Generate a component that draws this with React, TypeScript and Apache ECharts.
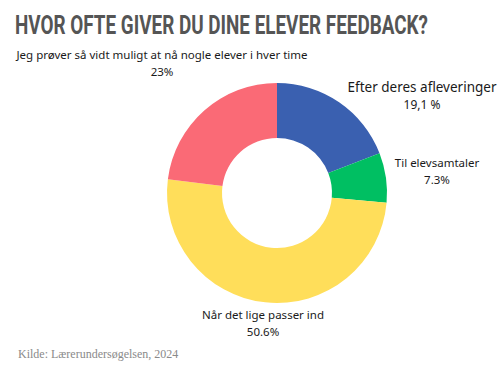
import React, { useEffect, useRef } from "react";
import * as echarts from "echarts";

const categories = [
  "Efter deres afleveringer",
  "Til elevsamtaler",
  "Når det lige passer ind",
  "Jeg prøver så vidt muligt at nå nogle elever i hver time",
];
const values = [19.1, 7.3, 50.6, 23];
const valueLabels = ["19,1 %", "7.3%", "50.6%", "23%"];
const colors = ["#3A60B0", "#00BF62", "#FFDE5A", "#FA6A76"];
const title = "HVOR OFTE GIVER DU DINE ELEVER FEEDBACK?";
const source = "Kilde: Lærerundersøgelsen, 2024";

const labelPos: [number, number][] = [
  [422, 95],
  [437, 171],
  [263, 323],
  [162, 63],
];

export default function App() {
  const ref = useRef<HTMLDivElement>(null);
  useEffect(() => {
    document.body.style.margin = "0";
    const chart = echarts.init(ref.current!, null, { renderer: "svg" });
    const titleFont = "bold 26px Roboto";
    const c = document.createElement("canvas").getContext("2d")!;
    c.font = titleFont;
    const w = c.measureText(title).width;
    const sx = 413 / w;
    chart.setOption({
      animation: false,
      backgroundColor: "#ffffff",
      graphic: [
        {
          type: "text",
          x: 15,
          y: 25,
          scaleX: sx,
          style: {
            text: title,
            font: titleFont,
            fill: "#555555",
            verticalAlign: "middle",
          },
        },
        {
          type: "text",
          x: 18,
          y: 354,
          style: {
            text: source,
            font: "12px 'Liberation Serif'",
            fill: "#8a8a8a",
            verticalAlign: "middle",
          },
        },
      ],
      series: [
        {
          type: "pie",
          center: [277, 193],
          radius: [55, 110],
          startAngle: 90,
          clockwise: true,
          data: categories.map((name, i) => ({
            name,
            value: values[i],
            itemStyle: { color: colors[i] },
            label: {
              formatter: `{${i === 0 ? "big" : "n"}|${name}}\n{${i === 0 ? "bigv" : "n"}|${valueLabels[i]}}`,
            },
          })),
          label: {
            show: true,
            position: "outside",
            alignTo: "none",
            overflow: "none",
            width: 400,
            color: "#1a1a1a",
            fontFamily: "'Noto Sans'",
            align: "center",
            rich: {
              n: { fontSize: 11.5, lineHeight: 17, fontFamily: "'Noto Sans'", color: "#1a1a1a", align: "center" },
              big: { fontSize: 13.5, lineHeight: 19, fontFamily: "'Noto Sans'", color: "#1a1a1a", align: "center" },
              bigv: { fontSize: 12, lineHeight: 17, fontFamily: "'Noto Sans'", color: "#1a1a1a", align: "center" },
            },
          },
          labelLine: { show: false },
          labelLayout: (p: any) => ({
            x: labelPos[p.dataIndex][0],
            y: labelPos[p.dataIndex][1],
            align: "center",
            verticalAlign: "middle",
          }),
          emphasis: { disabled: true },
        },
      ],
    });
    return () => chart.dispose();
  }, []);
  return <div ref={ref} style={{ width: 504, height: 375 }} />;
}
